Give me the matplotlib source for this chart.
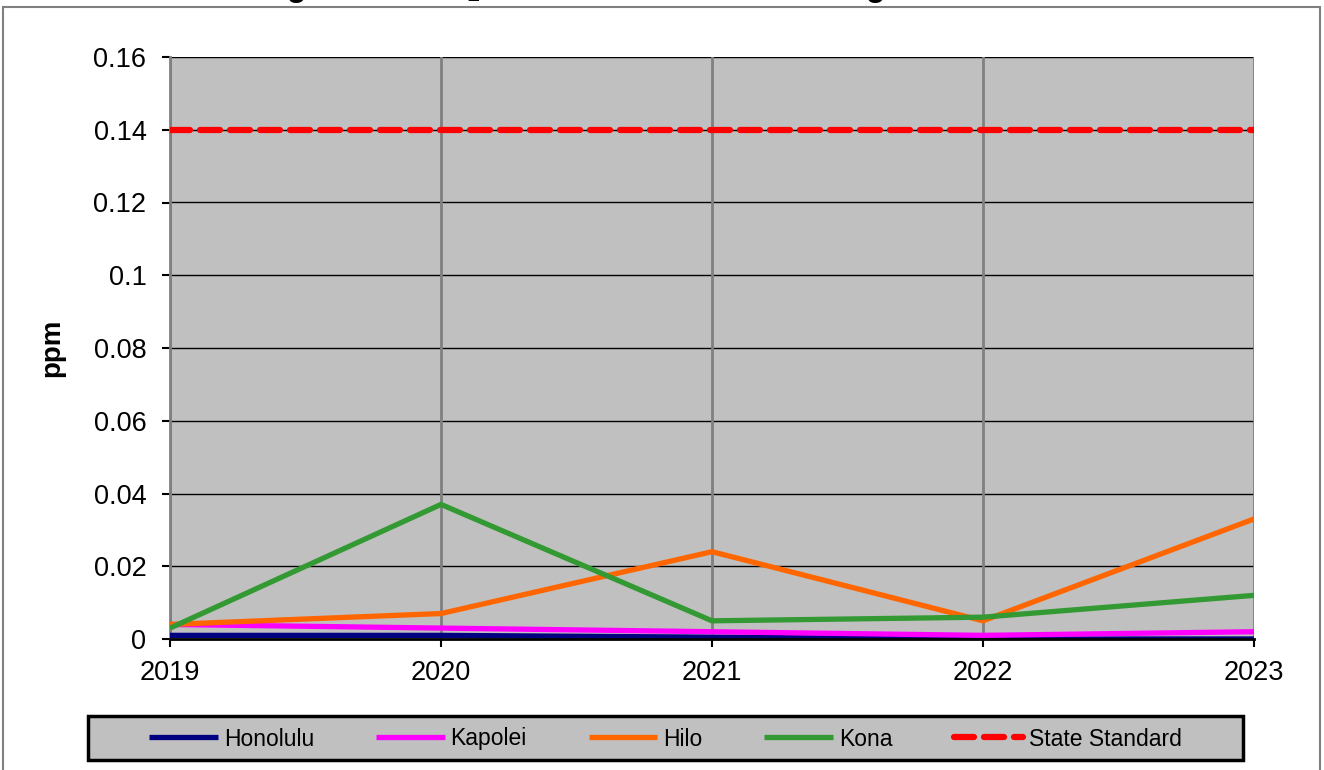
import numpy as np
import matplotlib.pyplot as plt
from matplotlib.patches import Rectangle

plt.rcParams['font.family'] = ['Liberation Sans', 'DejaVu Sans']

years = [2019, 2020, 2021, 2022, 2023]
honolulu = [0.001, 0.001, 0.0005, 0.0, 0.0]
kapolei = [0.004, 0.003, 0.002, 0.001, 0.002]
hilo = [0.004, 0.007, 0.024, 0.005, 0.033]
kona = [0.003, 0.037, 0.005, 0.006, 0.012]
state_standard = [0.14, 0.14, 0.14, 0.14, 0.14]

series = [
    ("Honolulu", honolulu, "#000080"),
    ("Kapolei", kapolei, "#FF00FF"),
    ("Hilo", hilo, "#FF6600"),
    ("Kona", kona, "#339933"),
]

W, H = 1324, 770
fig = plt.figure(figsize=(W / 100, H / 100), dpi=100)
ax = fig.add_axes([170 / W, 1 - 639 / H, (1254 - 170) / W, (639 - 57) / H])
ax.set_facecolor("#C0C0C0")

handles = []
for name, vals, col in series:
    h, = ax.plot(years, vals, color=col, lw=3.8, solid_capstyle="butt",
                 solid_joinstyle="miter", zorder=3)
    handles.append(h)
std, = ax.plot(years, state_standard, color="#FF0000", lw=4.5,
               linestyle=(0, (3.2, 1.6)), dash_capstyle="round", zorder=4)
handles.append(std)

ax.set_xlim(2019, 2023)
ax.set_ylim(0, 0.16)
ax.set_xticks(years)
ax.set_yticks(np.arange(0, 0.161, 0.02))
ax.set_yticklabels(["0", "0.02", "0.04", "0.06", "0.08", "0.1", "0.12", "0.14", "0.16"])

# horizontal gridlines black, vertical ones gray
for y in np.arange(0.02, 0.161, 0.02):
    ax.axhline(y, color="black", lw=1, zorder=1)
for x in years:
    ax.axvline(x, color="#808080", lw=2, zorder=1)

for s in ["top", "right"]:
    ax.spines[s].set_visible(False)
ax.spines["left"].set_color("#808080")
ax.spines["left"].set_linewidth(2)
ax.spines["bottom"].set_color("black")
ax.spines["bottom"].set_linewidth(2)
ax.spines["bottom"].set_zorder(5)

ax.tick_params(axis="both", labelsize=19.5, direction="out", length=6, width=1.5)
ax.tick_params(axis="x", pad=9)
ax.tick_params(axis="y", pad=11)

ax.set_ylabel("ppm", fontsize=20, fontweight="bold")
ax.yaxis.set_label_coords(-0.097, 0.5)

# title runs off the top edge, only its lowest strip is inside
fig.text(0.5, 1 + 4 / H, "Figure 3-6 SO$_2$ Maximum 24-Hour Average 2019-2023",
         ha="center", va="baseline", fontsize=23, fontweight="bold")

# outer chart border
fig.add_artist(Rectangle((3 / W, -0.05), (1320 - 3) / W, 1.05 - 7 / H,
                         transform=fig.transFigure, fill=False,
                         ec="#808080", lw=1.5))

# legend box
fig.add_artist(Rectangle((88 / W, 1 - 760 / H), (1243 - 88) / W, 44 / H,
                         transform=fig.transFigure, fc="#C0C0C0",
                         ec="black", lw=2.5, zorder=0))
leg = fig.legend(handles, ["Honolulu", "Kapolei", "Hilo", "Kona", "State Standard"],
                 loc="center", bbox_to_anchor=((88 + 1243) / 2 / W, 1 - 739 / H),
                 ncol=5, frameon=False, fontsize=16.5, handlelength=3.0,
                 handletextpad=0.25, columnspacing=2.7)

fig.savefig("out.png", dpi=100)
